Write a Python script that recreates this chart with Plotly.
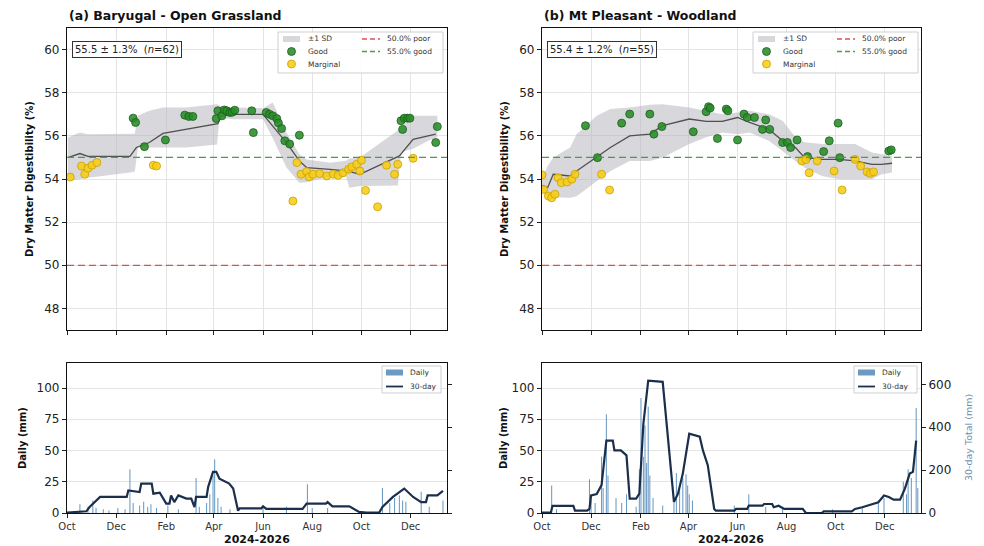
import plotly.graph_objects as go
import pandas as pd

W, H = 984, 546
START = pd.Timestamp("2024-10-01")
X_END = pd.Timestamp("2026-01-15")

# ---------------- DATA ----------------
tick_dates = ["2024-10-01", "2024-12-01", "2025-02-01", "2025-04-01",
              "2025-06-01", "2025-08-01", "2025-10-01", "2025-12-01"]
tick_text = ["Oct", "Dec", "Feb", "Apr", "Jun", "Aug", "Oct", "Dec"]
POOR = 50.0
GOOD = 55.0

# Panel (a) Baryugal - observations (day offsets from 2024-10-01)
good_a_day = [82, 85, 96, 122, 146, 151, 156, 185, 187, 192, 195, 198, 202, 205, 208,
              229, 231, 247, 251, 255, 260, 262, 266, 270, 276, 288,
              414, 416, 418, 422, 425, 457, 459]
good_a_val = [56.82, 56.62, 55.5, 55.81, 56.96, 56.9, 56.9, 56.8, 57.16, 56.93, 57.2, 57.16, 57.08, 57.1, 57.19,
              57.16, 56.15, 57.08, 57.0, 56.93, 56.8, 56.6, 56.34, 55.77, 55.62, 56.03,
              56.7, 56.3, 56.82, 56.82, 56.82, 55.69, 56.43]
marg_a_day = [4, 18, 22, 26, 31, 37, 107, 111, 280, 285, 290, 297, 300, 305, 313, 322, 330, 336,
              342, 349, 353, 359, 363, 365, 370, 385, 396, 406, 410, 429]
marg_a_val = [54.09, 54.6, 54.22, 54.5, 54.64, 54.76, 54.64, 54.6, 52.98, 54.76, 54.22, 54.34, 54.1, 54.22,
              54.25, 54.14, 54.22, 54.17, 54.29, 54.45, 54.56, 54.68, 54.37, 54.87, 53.47, 52.71,
              54.64, 54.22, 54.68, 54.96]
mean_a_day = [1, 16, 26, 78, 86, 102, 119, 148, 187, 191, 206, 243, 255, 272, 288, 297, 326, 348,
              363, 412, 429, 449, 457]
mean_a_val = [54.99, 55.18, 55.05, 55.05, 55.46, 55.69, 56.11, 56.31, 56.57, 56.93, 57.0, 57.0, 56.47,
              55.69, 54.84, 54.53, 54.45, 54.37, 54.22, 55.07, 55.84, 56.0, 56.08]
band_a_day = [1, 16, 26, 78, 84, 88, 102, 119, 148, 186, 189, 206, 243, 255, 272, 288, 297, 326,
              346, 350, 363, 410, 414, 429, 449, 459]
band_a_hi = [55.92, 56.15, 56.08, 56.08, 56.1, 56.93, 57.16, 57.31, 57.31, 57.47, 57.39, 57.31, 57.28,
             57.55, 56.15, 55.15, 54.9, 54.75, 54.85, 54.95, 55.0, 56.25, 56.4, 56.93, 56.93, 56.93]
band_a_lo = [53.91, 54.0, 54.06, 54.3, 54.35, 55.46, 55.46, 55.46, 55.46, 55.6, 56.85, 56.77, 56.77,
             55.9, 54.53, 53.83, 53.85, 54.1, 54.1, 53.6, 53.68, 53.7, 55.25, 55.4, 55.8, 55.93]
stats_a = "55.5 ± 1.3%  (<i>n</i>=62)"

# Panel (b) Mt Pleasant
good_b_day = [54, 69, 99, 109, 134, 139, 149, 188, 204, 207, 209, 218, 229, 231, 243, 251, 255, 264,
              274, 278, 283, 299, 305, 309, 317, 330, 350, 357, 368, 370, 431, 434]
good_b_val = [56.47, 54.99, 56.59, 57.01, 57.01, 56.08, 56.43, 56.19, 57.12, 57.35, 57.29, 55.88, 57.24,
              57.16, 55.81, 57.01, 56.85, 56.85, 56.3, 56.74, 56.3, 55.69, 55.69, 55.46, 55.81, 55.04,
              55.27, 55.77, 56.59, 54.99, 55.3, 55.35]
marg_b_day = [0, 2, 8, 12, 16, 20, 24, 31, 37, 41, 74, 84, 323, 328, 332, 342, 363, 373, 389, 396,
              404, 408, 412]
marg_b_val = [54.19, 53.52, 53.21, 53.13, 53.29, 54.06, 53.83, 53.86, 53.99, 54.22, 54.22, 53.49, 54.84,
              54.9, 54.29, 54.84, 54.37, 53.49, 54.91, 54.6, 54.33, 54.26, 54.33]
mean_b_day = [0, 7, 14, 35, 43, 68, 85, 109, 134, 150, 183, 204, 224, 243, 258, 282, 299, 315, 326,
              348, 369, 389, 410, 422, 435]
mean_b_val = [53.7, 53.6, 54.22, 54.14, 54.37, 55.0, 55.46, 56.0, 56.08, 56.47, 56.78, 56.67, 56.67,
              56.85, 56.62, 56.3, 55.77, 55.46, 55.0, 54.91, 54.91, 54.84, 54.68, 54.68, 54.73]
band_b_hi = [54.0, 54.6, 55.0, 55.46, 56.08, 56.93, 57.24, 57.31, 57.44, 57.47, 57.31, 57.16, 57.0,
             57.08, 57.16, 57.0, 56.7, 55.93, 55.7, 55.62, 55.62, 55.62, 55.23, 55.15, 55.07]
band_b_lo = [53.4, 53.2, 53.15, 53.13, 53.2, 53.91, 54.37, 54.84, 54.84, 55.0, 55.62, 55.93, 56.15,
             56.08, 56.15, 55.77, 55.3, 54.84, 54.53, 54.14, 53.99, 53.99, 53.99, 54.22, 54.3]
stats_b = "55.4 ± 1.2%  (<i>n</i>=55)"

# Rainfall (a): daily (mm) and 30-day total (mm)
rain_a_day = [16, 26, 32, 36, 45, 52, 63, 72, 78, 82, 90, 95, 100, 104, 111, 125, 138, 160, 164, 173,
              177, 181, 183, 187, 191, 202, 243, 272, 298, 304, 323, 391, 400, 406, 412, 416, 420,
              439, 449, 466]
rain_a_val = [7, 5, 10, 4, 3, 2, 4, 3, 35, 8, 6, 9, 5, 7, 4, 6, 3, 28, 5, 8, 15, 30, 43, 12, 5, 3, 4,
              5, 23, 4, 4, 20, 8, 12, 14, 10, 9, 17, 5, 10]
tot_a_day = [0, 16, 24, 28, 41, 70, 74, 76, 86, 90, 92, 105, 107, 115, 123, 127, 129, 133, 138, 148,
             154, 158, 160, 173, 175, 181, 185, 189, 201, 206, 212, 214, 241, 243, 247, 292, 297,
             321, 323, 329, 350, 362, 371, 387, 391, 404, 418, 429, 439, 445, 447, 459, 466]
tot_a_val = [2, 5, 8, 28, 75, 75, 75, 105, 98, 98, 137, 137, 90, 95, 44, 44, 82, 51, 82, 67, 67, 28,
             75, 75, 122, 192, 192, 160, 137, 114, 11, 22, 22, 31, 19, 19, 44, 44, 51, 31, 31, 5, 2,
             2, 28, 75, 114, 75, 51, 51, 82, 82, 103]

# Rainfall (b)
rain_b_day = [12, 18, 59, 61, 66, 74, 76, 80, 82, 92, 99, 105, 117, 121, 123, 126, 128, 130, 132, 134,
              138, 150, 164, 167, 171, 175, 179, 181, 183, 187, 239, 257, 278, 299, 361, 398, 418,
              425, 449, 453, 455, 459, 465, 467]
rain_b_val = [22, 3, 27, 10, 8, 45, 20, 79, 30, 12, 8, 15, 5, 35, 92, 45, 70, 40, 85, 30, 12, 6, 8,
              32, 20, 28, 31, 22, 15, 10, 6, 15, 5, 5, 3, 4, 10, 12, 25, 15, 35, 28, 84, 20]
tot_b_day = [0, 11, 13, 39, 41, 56, 59, 61, 68, 74, 80, 88, 90, 98, 105, 109, 117, 121, 126, 132, 150,
             164, 169, 175, 183, 196, 200, 206, 214, 216, 239, 241, 255, 257, 274, 276, 286, 288,
             294, 301, 324, 328, 348, 350, 385, 389, 398, 410, 418, 425, 431, 437, 445, 451, 457,
             461, 465]
tot_b_val = [2, 2, 33, 33, 11, 11, 19, 82, 88, 130, 338, 338, 292, 292, 269, 67, 67, 90, 417, 618, 612,
             51, 90, 184, 370, 356, 292, 223, 19, 11, 11, 19, 19, 34, 34, 42, 42, 27, 34, 19, 19, 0, 0,
             8, 8, 19, 27, 42, 50, 82, 75, 62, 62, 114, 184, 192, 338]


def dates(days):
    return [START + pd.Timedelta(days=v) for v in days]


# ---------------- STYLE ----------------
FONT = "DejaVu Sans"
GREEN = "rgba(40,140,40,0.88)"
GREEN_EDGE = "#1d5e1d"
YEL = "rgba(247,205,20,0.88)"
YEL_EDGE = "#c9a200"
BAND = "rgba(175,175,185,0.5)"
MEAN = "#505050"
RED_D = "#d9534f"
GRN_D = "#4e9a4e"
BAR = "rgba(70,130,180,0.8)"
TOT = "#1b2f4d"
GRID = "#e4e4e4"

XA = (67, 447)
XB = (542, 921)
YT = (28, 330)
YB = (363, 513)


def dom_x(a):
    return [a[0] / W, a[1] / W]


def dom_y(a):
    return [1 - a[1] / H, 1 - a[0] / H]


def PX(x):
    return x / W


def PY(y):
    return 1 - y / H


fig = go.Figure()


def add_top(xr, yr, gd, gv, md, mv, meand, meanv, bandd, hi, lo):
    fig.add_trace(go.Scatter(x=dates(bandd) + dates(bandd)[::-1], y=hi + lo[::-1], fill="toself",
                             fillcolor=BAND, line=dict(width=0), mode="lines", hoverinfo="skip",
                             xaxis=xr, yaxis=yr))
    fig.add_trace(go.Scatter(x=dates(meand), y=meanv, mode="lines", line=dict(color=MEAN, width=1.3),
                             xaxis=xr, yaxis=yr))
    fig.add_trace(go.Scatter(x=dates(gd), y=gv, mode="markers",
                             marker=dict(size=8, color=GREEN, line=dict(color=GREEN_EDGE, width=0.8)),
                             xaxis=xr, yaxis=yr))
    fig.add_trace(go.Scatter(x=dates(md), y=mv, mode="markers",
                             marker=dict(size=8, color=YEL, line=dict(color=YEL_EDGE, width=0.8)),
                             xaxis=xr, yaxis=yr))


def add_bottom(xr, yr, yr2, rd, rv, td, tv):
    fig.add_trace(go.Bar(x=dates(rd), y=rv, width=86400000 * 1.3, marker=dict(color=BAR, line=dict(width=0)),
                         xaxis=xr, yaxis=yr))
    fig.add_trace(go.Scatter(x=dates(td), y=tv, mode="lines", line=dict(color=TOT, width=2.2),
                             xaxis=xr, yaxis=yr2))


add_top("x", "y", good_a_day, good_a_val, marg_a_day, marg_a_val, mean_a_day, mean_a_val,
        band_a_day, band_a_hi, band_a_lo)
add_bottom("x2", "y2", "y3", rain_a_day, rain_a_val, tot_a_day, tot_a_val)
add_top("x3", "y4", good_b_day, good_b_val, marg_b_day, marg_b_val, mean_b_day, mean_b_val,
        mean_b_day, band_b_hi, band_b_lo)
add_bottom("x4", "y5", "y6", rain_b_day, rain_b_val, tot_b_day, tot_b_val)

tickfont = dict(family=FONT, size=12, color="#222")
xtickfont = dict(family=FONT, size=10, color="#333")
xrange_ = [START, X_END]

common_x = dict(range=xrange_, type="date", tickvals=tick_dates, ticktext=tick_text, ticks="outside",
                ticklen=4, tickcolor="#222", showline=True, linecolor="#111", linewidth=1.3, mirror=True,
                zeroline=False, automargin=False)
common_yt = dict(range=[47, 61], tickvals=[48, 50, 52, 54, 56, 58, 60], ticks="outside", ticklen=4,
                 tickcolor="#222", tickfont=tickfont, showline=True, linecolor="#111", linewidth=1.3,
                 mirror=True, showgrid=True, gridcolor=GRID, zeroline=False, automargin=False)
common_yb = dict(range=[0, 120], tickvals=[0, 25, 50, 75, 100], ticks="outside", ticklen=4,
                 tickcolor="#222", tickfont=tickfont, showline=True, linecolor="#111", linewidth=1.3,
                 mirror=True, showgrid=True, gridcolor=GRID, zeroline=False, automargin=False)
common_yr = dict(range=[0, 700], tickvals=[0, 200, 400, 600], ticks="outside", ticklen=4,
                 tickcolor="#222", tickfont=tickfont, showgrid=False, zeroline=False, side="right",
                 automargin=False)

fig.update_layout(
    width=W, height=H, margin=dict(l=0, r=0, t=0, b=0, pad=0, autoexpand=False), showlegend=False,
    paper_bgcolor="white", plot_bgcolor="white", font=dict(family=FONT, color="#222"),
    xaxis=dict(domain=dom_x(XA), anchor="y", showticklabels=False, showgrid=True, gridcolor=GRID, **common_x),
    yaxis=dict(domain=dom_y(YT), anchor="x", **common_yt),
    xaxis2=dict(domain=dom_x(XA), anchor="y2", tickfont=xtickfont, showgrid=False, **common_x),
    yaxis2=dict(domain=dom_y(YB), anchor="x2", **common_yb),
    yaxis3=dict(overlaying="y2", anchor="x2", showticklabels=False, **common_yr),
    xaxis3=dict(domain=dom_x(XB), anchor="y4", showticklabels=False, showgrid=True, gridcolor=GRID, **common_x),
    yaxis4=dict(domain=dom_y(YT), anchor="x3", **common_yt),
    xaxis4=dict(domain=dom_x(XB), anchor="y5", tickfont=xtickfont, showgrid=False, **common_x),
    yaxis5=dict(domain=dom_y(YB), anchor="x4", **common_yb),
    yaxis6=dict(overlaying="y5", anchor="x4", showticklabels=True, **common_yr),
)

shapes = []
annots = []

# threshold lines
for xr, yr in [("x", "y"), ("x3", "y4")]:
    shapes.append(dict(type="line", xref=xr + " domain", yref=yr, x0=0, x1=1, y0=POOR, y1=POOR,
                       layer="above", line=dict(color=RED_D, width=1.3, dash="7px,4px")))
    shapes.append(dict(type="line", xref=xr + " domain", yref=yr, x0=0, x1=1, y0=GOOD, y1=GOOD,
                       layer="above", line=dict(color=GRN_D, width=1.3, dash="7px,4px")))


def txt(x, y, s, size=7.5, color="#333", anchor="left", bold=False, angle=0):
    annots.append(dict(x=PX(x), y=PY(y), xref="paper", yref="paper", text=("<b>%s</b>" % s) if bold else s,
                       showarrow=False, xanchor=anchor, yanchor="middle", textangle=angle,
                       font=dict(family=FONT, size=size, color=color)))


def top_legend(bx, by):
    shapes.append(dict(type="rect", xref="paper", yref="paper", x0=PX(bx), x1=PX(bx + 165),
                       y0=PY(by + 41), y1=PY(by), fillcolor="rgba(255,255,255,0.85)",
                       line=dict(color="#cfcfcf", width=1)))
    r = [by + 7, by + 19.5, by + 32]
    shapes.append(dict(type="rect", xref="paper", yref="paper", x0=PX(bx + 5), x1=PX(bx + 22),
                       y0=PY(r[0] + 3), y1=PY(r[0] - 3), fillcolor=BAND, line=dict(width=0)))
    shapes.append(dict(type="circle", xref="paper", yref="paper", x0=PX(bx + 9.5), x1=PX(bx + 17.5),
                       y0=PY(r[1] + 4), y1=PY(r[1] - 4), fillcolor=GREEN, line=dict(color=GREEN_EDGE, width=0.8)))
    shapes.append(dict(type="circle", xref="paper", yref="paper", x0=PX(bx + 9.5), x1=PX(bx + 17.5),
                       y0=PY(r[2] + 4), y1=PY(r[2] - 4), fillcolor=YEL, line=dict(color=YEL_EDGE, width=0.8)))
    shapes.append(dict(type="line", xref="paper", yref="paper", x0=PX(bx + 84), x1=PX(bx + 102),
                       y0=PY(r[0]), y1=PY(r[0]), line=dict(color=RED_D, width=1.3, dash="5px,3px")))
    shapes.append(dict(type="line", xref="paper", yref="paper", x0=PX(bx + 84), x1=PX(bx + 102),
                       y0=PY(r[1]), y1=PY(r[1]), line=dict(color=GRN_D, width=1.3, dash="5px,3px")))
    txt(bx + 28, r[0], "±1 SD")
    txt(bx + 28, r[1], "Good")
    txt(bx + 28, r[2], "Marginal")
    txt(bx + 107, r[0], "%.1f%% poor" % POOR)
    txt(bx + 107, r[1], "%.1f%% good" % GOOD)


def bottom_legend(bx, bx2, by, by2):
    shapes.append(dict(type="rect", xref="paper", yref="paper", x0=PX(bx), x1=PX(bx2),
                       y0=PY(by2), y1=PY(by), fillcolor="rgba(255,255,255,0.85)",
                       line=dict(color="#cfcfcf", width=1)))
    r = [by + 6.5, by + 20.5]
    shapes.append(dict(type="rect", xref="paper", yref="paper", x0=PX(bx + 4), x1=PX(bx + 21),
                       y0=PY(r[0] + 3), y1=PY(r[0] - 3), fillcolor=BAR, line=dict(width=0)))
    shapes.append(dict(type="line", xref="paper", yref="paper", x0=PX(bx + 4), x1=PX(bx + 21),
                       y0=PY(r[1]), y1=PY(r[1]), line=dict(color=TOT, width=1.8)))
    txt(bx + 26, r[0], "Daily")
    txt(bx + 26, r[1], "30-day")


top_legend(278, 32)
top_legend(753, 32)
bottom_legend(382, 441, 366, 393)
bottom_legend(854, 917, 366, 393)

# stats boxes
for x0, s in [(72, stats_a), (547, stats_b)]:
    annots.append(dict(x=PX(x0), y=PY(49), xref="paper", yref="paper", text=s, showarrow=False,
                       xanchor="left", yanchor="middle", font=dict(family=FONT, size=10, color="#222"),
                       bordercolor="#333", borderwidth=1, borderpad=2, bgcolor="white"))

# titles and axis labels
txt(67, 15, "(a) Baryugal - Open Grassland", size=12.5, color="#111", bold=True)
txt(542, 15, "(b) Mt Pleasant - Woodland", size=12.5, color="#111", bold=True)
txt(30, 179, "Dry Matter Digestibility (%)", size=10, color="#111", anchor="center", bold=True, angle=-90)
txt(505, 179, "Dry Matter Digestibility (%)", size=10, color="#111", anchor="center", bold=True, angle=-90)
txt(22, 438, "Daily (mm)", size=10, color="#111", anchor="center", bold=True, angle=-90)
txt(503, 438, "Daily (mm)", size=10, color="#111", anchor="center", bold=True, angle=-90)
txt(968, 438, "30-day Total (mm)", size=9.5, color="#6d8db0", anchor="center", angle=-90)
txt(257, 539, "2024-2026", size=11, color="#111", anchor="center", bold=True)
txt(731, 539, "2024-2026", size=11, color="#111", anchor="center", bold=True)

fig.update_layout(shapes=shapes, annotations=annots)
fig.write_html("out.html")
